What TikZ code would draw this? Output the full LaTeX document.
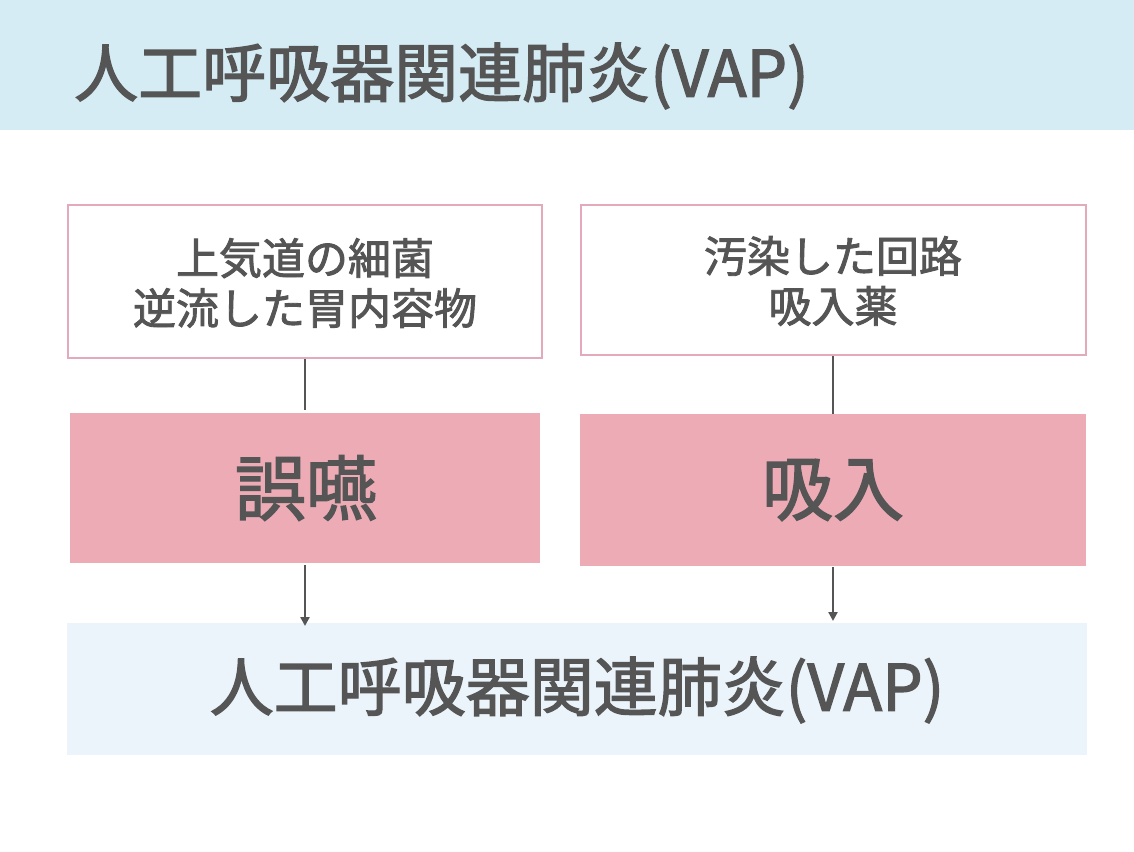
\documentclass[tikz,border=0pt]{standalone}
\usepackage{fontspec}
\setmainfont{Noto Sans CJK JP}[FakeBold=2]
\usetikzlibrary{arrows.meta}
\definecolor{txt}{HTML}{555555}
\definecolor{hdr}{HTML}{D5ECF4}
\definecolor{pinkfill}{HTML}{EDABB5}
\definecolor{pinkline}{HTML}{E2AABA}
\definecolor{botfill}{HTML}{EAF4FA}
\tikzset{
  srcbox/.style={draw=pinkline, line width=2.5pt, fill=white},
  mainbox/.style={fill=pinkfill, draw=none},
  link/.style={draw=txt, line width=2.6pt},
  arr/.style={link, -{Triangle[width=9pt,length=9pt]}},
  lbl/.style={text=txt, align=center, inner sep=0pt},
}
\begin{document}
\begin{tikzpicture}[x=1pt,y=-1pt]
\useasboundingbox (0,0) rectangle (1134,851);
\fill[white] (0,0) rectangle (1134,851);
% header
\fill[hdr] (0,0) rectangle (1134,130);
\node[lbl, anchor=west, font=\fontsize{64}{74}\selectfont] (title) at (74,76) {人工呼吸器関連肺炎(VAP)};
% source boxes
\draw[srcbox] (68,205) rectangle (542,358);
\draw[srcbox] (581,205) rectangle (1086,355);
\coordinate (lsrc) at (305,359);
\coordinate (rsrc) at (833,356);
\node[lbl, font=\fontsize{43}{50}\selectfont] (ltext) at (305,283) {上気道の細菌\\逆流した胃内容物};
\node[lbl, font=\fontsize{43}{50}\selectfont] (rtext) at (833,281) {汚染した回路\\吸入薬};
% main boxes
\fill[mainbox] (70,413) rectangle (540,563);
\fill[mainbox] (580,414) rectangle (1086,566);
\coordinate (lmtop) at (305,410);
\coordinate (rmtop) at (833,414);
\coordinate (lmbot) at (305,565);
\coordinate (rmbot) at (833,567);
\node[lbl, font=\fontsize{71}{80}\selectfont] (goen) at (306,488) {誤嚥};
\node[lbl, font=\fontsize{71}{80}\selectfont] (kyunyu) at (833,490) {吸入};
% bottom box
\fill[botfill] (67,623) rectangle (1087,755);
\coordinate (lbtop) at (305,626);
\coordinate (rbtop) at (833,621);
\node[lbl, font=\fontsize{64}{74}\selectfont] (vap) at (577,690) {人工呼吸器関連肺炎(VAP)};
% connectors
\draw[link] (lsrc) -- (lmtop);
\draw[link] (rsrc) -- (rmtop);
\draw[arr] (lmbot) -- (lbtop);
\draw[arr] (rmbot) -- (rbtop);
\end{tikzpicture}
\end{document}
